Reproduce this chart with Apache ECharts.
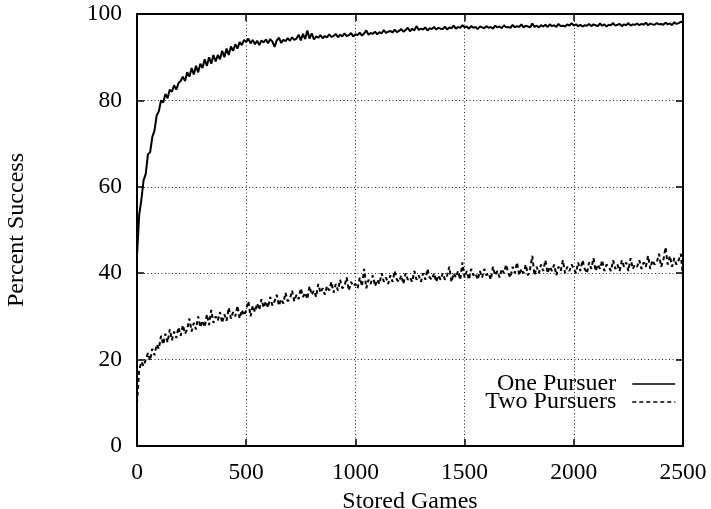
<!DOCTYPE html>
<html>
<head>
<meta charset="utf-8">
<script src="https://cdn.jsdelivr.net/npm/echarts@6/dist/echarts.min.js"></script>
<style>
html,body{margin:0;padding:0;background:#fff;}
#chart{width:711px;height:509px;}
</style>
</head>
<body>
<div id="chart"></div>
<script>
// Sample spacing (stored games between readings)
const STEP = 10;
const X_TICKS = [0, 500, 1000, 1500, 2000, 2500];
const Y_TICKS = [0, 20, 40, 60, 80, 100];
const SERIES_NAMES = ['One Pursuer', 'Two Pursuers'];

// Percent success, one reading every STEP games (0 .. 2500)
const ONE_PURSUER = [
  44, 53.5, 57, 61.5, 63, 67.5, 68, 71.5, 73, 76.5,
  77.5, 80, 79.5, 81.5, 80.5, 82.5, 82, 83.5, 82.5, 84,
  84.5, 85.5, 84.5, 86.5, 85.5, 87.5, 86, 88, 86.5, 88.5,
  87.5, 89.5, 88, 90, 88.5, 90.5, 89, 90.5, 89.5, 91.5,
  90, 92, 90.5, 92.5, 91.5, 93, 92, 93.5, 92.8, 94,
  93.5, 94.3, 93.2, 94, 93, 93.8, 92.8, 93.9, 93.4, 94.1,
  93.2, 94.2, 93.6, 92.4, 93.9, 94.5, 93.3, 94, 93.7, 94.4,
  93.8, 94.6, 94, 94.3, 95.2, 93.9, 95.4, 94.2, 96.2, 94.3,
  95.5, 94.1, 94.8, 94.5, 95.1, 94.4, 94.9, 94.6, 95.3, 94.7,
  94.9, 95.4, 94.6, 95.2, 94.8, 95.5, 94.9, 95.1, 95.6, 94.8,
  95.3, 95.1, 95.7, 95, 95.5, 96.2, 95.2, 95.6, 95.4, 95.9,
  95.3, 95.8, 95.5, 96.3, 95.6, 95.9, 96.1, 95.7, 96.4, 95.8,
  96.1, 96.5, 95.9, 96.3, 96.8, 96, 96.6, 96.2, 97.2, 96.3,
  96.6, 96.4, 96.9, 96.2, 96.7, 96.5, 97, 96.4, 96.8, 96.6,
  96.5, 97.1, 96.4, 96.9, 96.7, 97.3, 96.6, 97, 96.8, 97.4,
  96.9, 97.1, 96.6, 97.2, 96.8, 97, 96.5, 97.1, 96.9, 96.7,
  97.2, 96.8, 97, 96.6, 97.3, 96.9, 97.1, 96.7, 97.4, 96.9,
  97, 96.8, 97.5, 96.9, 97.2, 97, 97.6, 96.9, 97.3, 97.1,
  96.9, 97.8, 97, 97.3, 96.9, 97.4, 97.1, 97.5, 97, 97.6,
  97.2, 97.4, 97, 97.7, 97.2, 97.3, 97.1, 97.6, 97.3, 97.9,
  97.3, 97.6, 97.2, 97.5, 97.1, 97.4, 97.3, 97.7, 97.2, 97.6,
  97.4, 97.2, 97.8, 97.3, 97.6, 97.1, 97.5, 97.4, 97.9, 97.3,
  97.5, 97.7, 97.2, 97.6, 97.4, 97.9, 97.3, 97.6, 97.5, 97.8,
  97.4, 97.7, 97.5, 98, 97.4, 97.8, 97.6, 97.5, 97.9, 97.6,
  97.7, 97.5, 98, 97.6, 97.8, 97.4, 98.1, 97.7, 97.9, 98.2,
  98.1
];

const TWO_PURSUERS = [
  10, 17.5, 19.5, 18.5, 20, 21.5, 19.8, 22.5, 21, 23.5,
  22.5, 25.5, 23.5, 26, 24, 27, 24.5, 26.5, 25, 27.5,
  25.5, 28, 26, 27, 29.5, 26.5, 28.5, 27, 30, 27.5,
  29, 27.5, 30.5, 28, 31.5, 28.5, 30, 29, 31, 28.5,
  30.5, 29, 32, 29.5, 31, 30, 32.5, 29.5, 31.5, 30.2,
  31.5, 33.5, 30, 32.5, 31, 33, 31.5, 34, 32, 33.5,
  32, 34.5, 32.5, 33.5, 35, 32.5, 34, 33, 35.5, 33.5,
  34, 36, 33.5, 35, 34, 36.5, 34.5, 35.5, 34, 37,
  35, 36, 34.5, 37.5, 35.5, 36.5, 35, 37, 36, 38,
  35.5, 37.5, 36, 38.5, 36.5, 37, 39, 36, 38, 37,
  37.5, 36.5, 39, 37, 41, 36.5, 38.5, 37.5, 39.5, 37,
  38.5, 37.5, 40, 38, 39, 37.5, 39.5, 38, 40.5, 38.5,
  38, 39.5, 37.5, 40, 38.5, 39, 38, 40.5, 38.5, 39.5,
  38, 40, 38.5, 41, 39, 38.5, 40, 38, 39.5, 38.5,
  40, 38.5, 39.5, 41.5, 38, 40, 39, 40.5, 38.5, 42.5,
  39, 40.5, 38.5, 41, 39.5, 40, 38.5, 40.5, 39, 41,
  39.5, 40, 38.5, 41.5, 39.5, 40.5, 39, 41, 40, 42,
  40, 39, 41.5, 40, 42.5, 39.5, 41, 40, 42, 39.5,
  41, 44, 39.5, 41.5, 40, 42, 40.5, 43, 40, 41.5,
  40.5, 42, 39.5, 41.5, 40.5, 43, 40, 41.5, 40.5, 42,
  41, 40, 42.5, 40.5, 43, 41, 40, 42.5, 41, 43.5,
  40.5, 42, 41, 43, 40.5, 42, 41.5, 40.5, 43, 41,
  42, 40.5, 43, 41.5, 42.5, 40.5, 43.5, 41, 42, 41.5,
  43, 41, 42.5, 41.5, 44, 41, 43, 42, 42.5, 44.5,
  41.5, 43, 46, 42, 44, 41.5, 43.5, 42, 43, 44.5,
  39
];

const FONT = '"Liberation Serif", "Times New Roman", serif';

function pairs(values) {
  return values.map((v, i) => [i * STEP, v]);
}

const chart = echarts.init(document.getElementById('chart'), null, {renderer: 'canvas'});

const axisLine = {show: true, onZero: false, lineStyle: {color: '#000', width: 2}};
const axisTick = {show: true, inside: true, length: 7, lineStyle: {color: '#000', width: 1.5}};
const splitLine = {show: true, lineStyle: {color: '#222', width: 1, type: [1, 2.5]}};
const plainNumber = v => String(v);

const xBase = {
  type: 'value',
  min: X_TICKS[0], max: X_TICKS[X_TICKS.length - 1], interval: X_TICKS[1] - X_TICKS[0],
  axisLine: axisLine, axisTick: axisTick
};
const yBase = {
  type: 'value',
  min: Y_TICKS[0], max: Y_TICKS[Y_TICKS.length - 1], interval: Y_TICKS[1] - Y_TICKS[0],
  axisLine: axisLine, axisTick: axisTick
};

chart.setOption({
  animation: false,
  backgroundColor: '#fff',
  textStyle: {fontFamily: FONT, color: '#000'},
  grid: {left: 137, right: 28, top: 14, bottom: 63, containLabel: false, outerBoundsMode: 'none'},
  legend: {
    orient: 'vertical',
    align: 'right',
    right: 35,
    top: 372,
    padding: 0,
    itemWidth: 43,
    itemHeight: 14,
    itemGap: -6,
    data: SERIES_NAMES,
    selectedMode: false,
    itemStyle: {opacity: 0},
    lineStyle: {width: 1.5, color: '#000'},
    textStyle: {fontFamily: FONT, fontSize: 24, color: '#000', padding: [0, 11, 0, 0]}
  },
  xAxis: [
    Object.assign({}, xBase, {
      position: 'bottom',
      name: 'Stored Games', nameLocation: 'middle', nameGap: 36,
      nameTextStyle: {fontFamily: FONT, fontSize: 24, color: '#000'},
      axisLabel: {show: true, fontFamily: FONT, fontSize: 23.5, color: '#000', margin: 15, formatter: plainNumber},
      splitLine: splitLine
    }),
    Object.assign({}, xBase, {
      position: 'top',
      axisLabel: {show: false},
      splitLine: {show: false}
    })
  ],
  yAxis: [
    Object.assign({}, yBase, {
      position: 'left',
      name: 'Percent Success', nameLocation: 'middle', nameGap: 108, nameRotate: 90,
      nameTextStyle: {fontFamily: FONT, fontSize: 24, color: '#000'},
      axisLabel: {show: true, fontFamily: FONT, fontSize: 23.5, color: '#000', margin: 15, formatter: plainNumber},
      splitLine: splitLine
    }),
    Object.assign({}, yBase, {
      position: 'right',
      axisLabel: {show: false},
      splitLine: {show: false}
    })
  ],
  series: [
    {
      name: SERIES_NAMES[0], type: 'line', xAxisIndex: 0, yAxisIndex: 0,
      data: pairs(ONE_PURSUER), symbol: 'none', showSymbol: false,
      lineStyle: {color: '#000', width: 2, type: 'solid'},
      itemStyle: {color: '#000', opacity: 0}
    },
    {
      name: SERIES_NAMES[1], type: 'line', xAxisIndex: 0, yAxisIndex: 0,
      data: pairs(TWO_PURSUERS), symbol: 'none', showSymbol: false,
      lineStyle: {color: '#000', width: 2, type: [4, 3]},
      itemStyle: {color: '#000', opacity: 0}
    }
  ]
});
</script>
</body>
</html>
